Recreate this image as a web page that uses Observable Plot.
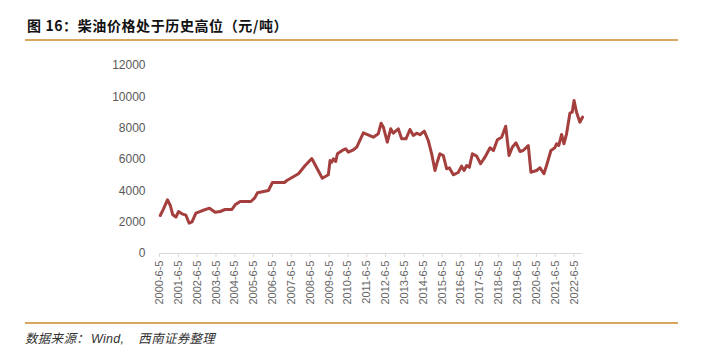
<!DOCTYPE html>
<html>
<head>
<meta charset="utf-8">
<script src="https://cdn.jsdelivr.net/npm/d3@7"></script>
<script src="https://cdn.jsdelivr.net/npm/@observablehq/plot@0.6"></script>
<style>
  html, body { margin: 0; padding: 0; background: #fff; }
  #wrap { position: relative; width: 718px; height: 351px; overflow: hidden; }
  #chart { position: absolute; left: 0; top: 0; }
  #title { position: absolute; left: 27px; top: 15px; font-family: "Noto Sans CJK SC", sans-serif; font-weight: bold; font-size: 14px; letter-spacing: 0.6px; color: #111; white-space: nowrap; }
  .rule { position: absolute; left: 25px; width: 653px; height: 2px; background: #D9A660; }
  #caption { position: absolute; left: 25px; top: 328px; font-family: "Noto Sans CJK SC", sans-serif; font-style: italic; font-size: 12.5px; letter-spacing: 0.3px; color: #333; white-space: nowrap; }
  #caption .lat { font-family: "Liberation Sans", Arial, sans-serif; margin-left: 2px; margin-right: 14px; }
</style>
</head>
<body>
<div id="wrap">
  <div id="chart"></div>
  <div id="title">图 16：柴油价格处于历史高位（元/吨）</div>
  <div class="rule" style="top:39px"></div>
  <div class="rule" style="top:322px"></div>
  <div id="caption">数据来源：<span class="lat">Wind,</span>西南证券整理</div>
</div>
<script>
const dates = [
  "2000-06-20","2000-08-22","2000-11-06","2001-01-01","2001-02-14","2001-04-20","2001-06-10","2001-08-15","2001-10-30",
  "2002-01-01","2002-02-25","2002-05-12","2002-09-05","2003-01-30","2003-05-20","2003-08-25","2003-11-28",
  "2004-04-08","2004-06-10","2004-09-16","2005-04-12","2005-06-20","2005-08-18","2006-03-18","2006-06-03",
  "2007-01-22","2007-03-10","2007-10-20","2008-02-28","2008-07-05","2009-01-25","2009-05-22","2009-06-25",
  "2009-07-27","2009-08-28","2009-10-12","2009-11-14","2010-03-10","2010-04-23","2010-06-13","2010-09-20",
  "2010-11-24","2011-04-01","2011-10-12","2012-01-15","2012-03-10","2012-04-23","2012-07-08","2012-09-12",
  "2012-11-02","2013-02-06","2013-04-12","2013-07-05","2013-09-20","2013-11-25","2014-01-30","2014-04-02",
  "2014-06-25","2014-09-10","2014-11-15","2015-01-18","2015-03-03","2015-04-23","2015-06-28","2015-09-02",
  "2015-10-23","2016-01-08","2016-04-12","2016-06-17","2016-08-04","2016-09-24","2016-11-14","2017-01-12",
  "2017-04-05","2017-06-21","2017-09-13","2017-12-20","2018-02-25","2018-05-12","2018-08-03","2018-10-20",
  "2018-12-24","2019-02-25","2019-05-08","2019-07-24","2019-09-24","2020-01-01","2020-02-21","2020-06-10",
  "2020-08-15","2020-10-30","2020-12-20","2021-03-15","2021-05-30","2021-07-02","2021-08-15","2021-10-08",
  "2021-11-22","2022-01-12","2022-03-18","2022-05-01","2022-06-07","2022-07-24","2022-09-27","2022-11-17"
];
const prices = [
  2426,2853,3428,3064,2490,2318,2681,2534,2445,
  1934,2024,2573,2726,2892,2637,2681,2809,
  2809,3109,3320,3320,3530,3875,4022,4533,
  4533,4660,5088,5618,6065,4807,5024,5937,
  5830,6045,5873,6365,6620,6684,6467,6620,
  6786,7705,7425,7641,8318,8063,7105,7961,
  7680,7961,7322,7322,7916,7533,7680,7578,
  7807,7214,6365,5299,5829,6365,6256,5407,
  5471,5024,5171,5573,5299,5618,5500,6365,
  6212,5726,6148,6748,6575,7258,7425,8127,
  6256,6786,7067,6512,6575,6895,5190,5299,
  5471,5088,5618,6575,6748,7003,6895,7597,
  7003,7641,8957,9020,9767,9020,8382,8701
];
const tickLabels = ["2000-6-5","2001-6-5","2002-6-5","2003-6-5","2004-6-5","2005-6-5","2006-6-5","2007-6-5",
  "2008-6-5","2009-6-5","2010-6-5","2011-6-5","2012-6-5","2013-6-5","2014-6-5","2015-6-5",
  "2016-6-5","2017-6-5","2018-6-5","2019-6-5","2020-6-5","2021-6-5","2022-6-5"];
const yTicks = [0, 2000, 4000, 6000, 8000, 10000, 12000];

const parseLabel = s => { const [y, m, d] = s.split("-").map(Number); return new Date(Date.UTC(y, m - 1, d)); };
const tickDates = tickLabels.map(parseLabel);
const labelOf = new Map(tickDates.map((d, i) => [+d, tickLabels[i]]));
const data = dates.map((s, i) => ({date: d3.isoParse(s), value: prices[i]}));

const chart = Plot.plot({
  width: 718,
  height: 351,
  marginLeft: 159,
  marginRight: 136,
  marginTop: 65,
  marginBottom: 98,
  style: {fontFamily: "'Liberation Sans', Arial, sans-serif", background: "transparent"},
  x: {type: "utc", domain: [tickDates[0], data[data.length - 1].date]},
  y: {domain: [0, 12000]},
  marks: [
    Plot.ruleY([0], {stroke: "#d9d9d9", strokeWidth: 1}),
    Plot.axisY(yTicks, {tickSize: 0, tickPadding: 14, fontSize: 12, fill: "#595959", label: null,
      tickFormat: d => String(d)}),
    Plot.axisX(tickDates, {tickSize: 4, tickPadding: 3, tickRotate: -90, fontSize: 11, fill: "#666",
      stroke: "#d9d9d9", tickFormat: d => labelOf.get(+d), label: null}),
    Plot.lineY(data, {x: "date", y: "value", stroke: "#A43F3D", strokeWidth: 3, strokeLinejoin: "round"})
  ]
});
document.getElementById("chart").appendChild(chart);
</script>
</body>
</html>
